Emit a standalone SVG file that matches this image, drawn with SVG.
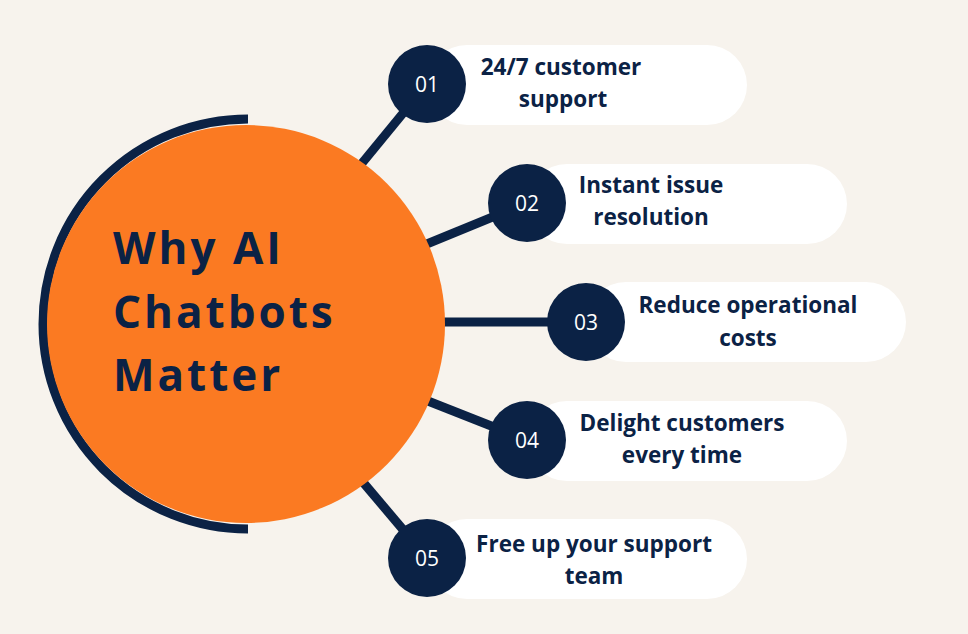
<svg xmlns="http://www.w3.org/2000/svg" width="968" height="634" viewBox="0 0 968 634">
<style>
.pill{fill:#ffffff}
.num{fill:#0b2245}
.conn line{stroke:#0b2245;stroke-width:9}
.nt{font-family:"Open Sans","Liberation Sans",sans-serif;font-size:21px;fill:#ffffff;text-anchor:middle}
.lb{font-family:"Open Sans","Liberation Sans",sans-serif;font-size:22.5px;font-weight:bold;fill:#0b2245;text-anchor:middle}
</style>
<rect width="968" height="634" fill="#f7f3ed"/>
<g class="conn">
<line x1="340" y1="190" x2="427" y2="84"/>
<line x1="400" y1="255" x2="527" y2="203"/>
<line x1="420" y1="322" x2="586" y2="322"/>
<line x1="400" y1="390" x2="527" y2="440"/>
<line x1="340" y1="455" x2="427" y2="558"/>
</g>
<path d="M248,119 A205,205 0 0 0 248,529" fill="none" stroke="#0b2245" stroke-width="9"/>
<g id="center"><circle cx="246" cy="324" r="199" fill="#fb7a22"/>
<text font-family="Open Sans,Liberation Sans,sans-serif" font-size="44" font-weight="bold" fill="#0b2245" letter-spacing="3"><tspan x="113" y="264">Why AI</tspan><tspan x="113" y="328">Chatbots</tspan><tspan x="113" y="391">Matter</tspan></text></g>
<g id="n1"><rect class="pill" x="427" y="45" width="320" height="80" rx="40"/><circle class="num" cx="427" cy="84" r="39"/><text class="nt" x="427" y="92">01</text><text class="lb" x="561" y="75">24/7 customer</text><text class="lb" x="563" y="107">support</text></g>
<g id="n2"><rect class="pill" x="527" y="164" width="320" height="80" rx="40"/><circle class="num" cx="527" cy="203" r="39"/><text class="nt" x="527" y="211">02</text><text class="lb" x="651" y="193">Instant issue</text><text class="lb" x="651" y="225">resolution</text></g>
<g id="n3"><rect class="pill" x="586" y="282" width="320" height="80" rx="40"/><circle class="num" cx="586" cy="322" r="39"/><text class="nt" x="586" y="330">03</text><text class="lb" x="748" y="313">Reduce operational</text><text class="lb" x="748" y="346">costs</text></g>
<g id="n4"><rect class="pill" x="527" y="401" width="320" height="80" rx="40"/><circle class="num" cx="527" cy="440" r="39"/><text class="nt" x="527" y="448">04</text><text class="lb" x="682" y="431">Delight customers</text><text class="lb" x="682" y="463">every time</text></g>
<g id="n5"><rect class="pill" x="427" y="519" width="320" height="80" rx="40"/><circle class="num" cx="427" cy="558" r="39"/><text class="nt" x="427" y="566">05</text><text class="lb" x="594" y="552">Free up your support</text><text class="lb" x="594" y="584">team</text></g>
</svg>
